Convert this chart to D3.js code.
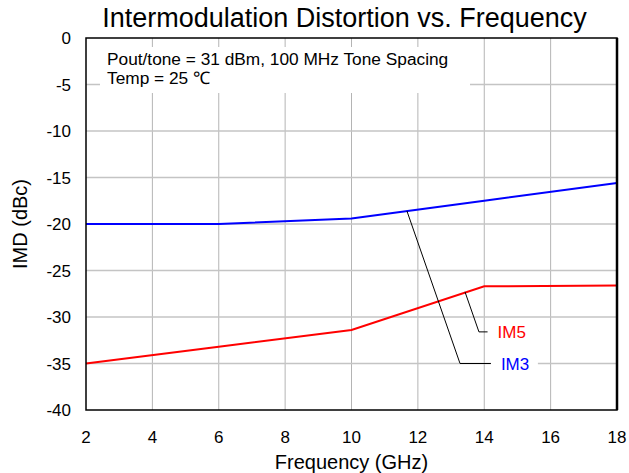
<!DOCTYPE html>
<html>
<head>
<meta charset="utf-8">
<script src="https://cdn.jsdelivr.net/npm/d3@7"></script>
<style>
  body { margin: 0; background: #fff; }
  text { font-family: "Liberation Sans", Arial, sans-serif; }
</style>
</head>
<body>
<div id="wrapper"></div>
<script>
const freq = [2, 6, 10, 14, 18];
const im3 = [-20, -20, -19.4, -17.5, -15.6];
const im5 = [-35, -33.2, -31.4, -26.7, -26.6];

const xTicks = [2, 4, 6, 8, 10, 12, 14, 16, 18];
const yTicks = [0, -5, -10, -15, -20, -25, -30, -35, -40];

// leader lines for the series labels: [freq, dBc]
const im3Leader = [[11.67, -18.6], [13.27, -35], [14.2, -35]];
const im5Leader = [[13.42, -27.3], [13.84, -31.6], [14.1, -31.6]];

const notes = ["Pout/tone = 31 dBm, 100 MHz Tone Spacing", "Temp = 25 \u2103"];

function drawChart() {
  let dimensions = {
    width: 629,
    height: 473,
    margin: { top: 38, right: 12, bottom: 63, left: 86 },
  }
  dimensions.boundedWidth = dimensions.width - dimensions.margin.left - dimensions.margin.right
  dimensions.boundedHeight = dimensions.height - dimensions.margin.top - dimensions.margin.bottom

  const wrapper = d3.select("#wrapper")
    .append("svg")
    .attr("width", dimensions.width)
    .attr("height", dimensions.height)

  const bounds = wrapper.append("g")
    .attr("transform", `translate(${dimensions.margin.left},${dimensions.margin.top})`)

  const xScale = d3.scaleLinear().domain([2, 18]).range([0, dimensions.boundedWidth])
  const yScale = d3.scaleLinear().domain([-40, 0]).range([dimensions.boundedHeight, 0])

  // grid
  bounds.append("g").selectAll("line")
    .data(xTicks.slice(1, -1))
    .join("line")
    .attr("x1", d => xScale(d)).attr("x2", d => xScale(d))
    .attr("y1", 0).attr("y2", dimensions.boundedHeight)
    .attr("stroke", "#b4b4b4").attr("stroke-width", 1)

  bounds.append("g").selectAll("line")
    .data(yTicks.slice(1, -1))
    .join("line")
    .attr("x1", 0).attr("x2", dimensions.boundedWidth)
    .attr("y1", d => yScale(d)).attr("y2", d => yScale(d))
    .attr("stroke", "#c4c4c4").attr("stroke-width", 1.5)

  // note box
  bounds.append("rect")
    .attr("x", 14).attr("y", 9)
    .attr("width", 370).attr("height", 46)
    .attr("fill", "#fff")
  bounds.append("g").selectAll("text")
    .data(notes)
    .join("text")
    .attr("x", 21)
    .attr("y", (d, i) => 27 + i * 19)
    .attr("font-size", 17.3)
    .text(d => d)

  // lines
  const line = d3.line()
    .x((d, i) => xScale(freq[i]))
    .y(d => yScale(d))

  bounds.append("path").datum(im3)
    .attr("d", line).attr("fill", "none")
    .attr("stroke", "#0000ff").attr("stroke-width", 2)
  bounds.append("path").datum(im5)
    .attr("d", line).attr("fill", "none")
    .attr("stroke", "#ff0000").attr("stroke-width", 2)

  // labels
  const leader = d3.line().x(d => xScale(d[0])).y(d => yScale(d[1]))
  const labels = [
    { name: "IM5", pts: im5Leader, color: "#ff0000" },
    { name: "IM3", pts: im3Leader, color: "#0000ff" },
  ]
  labels.forEach(l => {
    const end = l.pts[l.pts.length - 1]
    bounds.append("rect")
      .attr("x", xScale(end[0])).attr("y", yScale(end[1]) - 9)
      .attr("width", 47).attr("height", 18)
      .attr("fill", "#fff")
    bounds.append("path")
      .attr("d", leader(l.pts))
      .attr("fill", "none").attr("stroke", "#000").attr("stroke-width", 1)
    bounds.append("text")
      .attr("x", xScale(end[0]) + 10)
      .attr("y", yScale(end[1]) + 6)
      .attr("font-size", 17)
      .attr("fill", l.color)
      .text(l.name)
  })

  // frame
  bounds.append("rect")
    .attr("width", dimensions.boundedWidth).attr("height", dimensions.boundedHeight)
    .attr("fill", "none").attr("stroke", "#000").attr("stroke-width", 1.5)
  bounds.append("line")
    .attr("x1", dimensions.boundedWidth).attr("x2", dimensions.boundedWidth)
    .attr("y1", 0).attr("y2", dimensions.boundedHeight)
    .attr("stroke", "#000").attr("stroke-width", 2.5)

  // tick labels
  bounds.append("g").selectAll("text")
    .data(xTicks)
    .join("text")
    .attr("x", d => xScale(d))
    .attr("y", dimensions.boundedHeight + 33)
    .attr("text-anchor", "middle")
    .attr("font-size", 17)
    .text(d => d)

  bounds.append("g").selectAll("text")
    .data(yTicks)
    .join("text")
    .attr("x", -15)
    .attr("y", d => yScale(d) + 6)
    .attr("text-anchor", "end")
    .attr("font-size", 17)
    .text(d => d)

  // titles
  wrapper.append("text")
    .attr("x", dimensions.margin.left + dimensions.boundedWidth / 2 - 7)
    .attr("y", 27)
    .attr("text-anchor", "middle")
    .attr("font-size", 27)
    .text("Intermodulation Distortion vs. Frequency")

  wrapper.append("text")
    .attr("x", dimensions.margin.left + dimensions.boundedWidth / 2)
    .attr("y", 469)
    .attr("text-anchor", "middle")
    .attr("font-size", 20)
    .text("Frequency (GHz)")

  wrapper.append("text")
    .attr("transform", `translate(27,${dimensions.margin.top + dimensions.boundedHeight / 2}) rotate(-90)`)
    .attr("text-anchor", "middle")
    .attr("font-size", 20)
    .text("IMD (dBc)")
}

drawChart()
</script>
</body>
</html>
